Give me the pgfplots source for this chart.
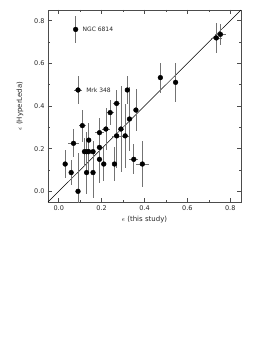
\documentclass[border=0pt]{standalone}
\usepackage{pgfplots}
\pgfplotsset{compat=1.18}
\usepackage{fontspec}
\setmainfont{DejaVu Sans}
\begin{document}
\begin{tikzpicture}
\useasboundingbox (-48pt,-151pt) rectangle (225pt,202pt);
\begin{axis}[
  at={(0,0)}, anchor=south west,
  width=193pt, height=192pt, scale only axis,
  xmin=-0.05, xmax=0.85, ymin=-0.05, ymax=0.85,
  xtick={0,0.2,...,0.8}, ytick={0,0.2,...,0.8},
  minor xtick={-0.0,0.1,...,0.8}, minor ytick={0,0.1,...,0.8},
  xticklabels={0.0,0.2,0.4,0.6,0.8}, yticklabels={0.0,0.2,0.4,0.6,0.8},
  tick align=inside, xtick pos=both, ytick pos=both,
  major tick length=4pt, minor tick length=2pt,
  tick style={black!70, line width=0.5pt},
  axis line style={black!70, line width=0.5pt},
  tick label style={font=\fontsize{6.5}{8}\selectfont, text=black!85},
  label style={font=\fontsize{7}{8}\selectfont, text=black!85},
  xlabel={$\epsilon$ (this study)}, ylabel={$\epsilon$ (HyperLeda)},
  xlabel style={yshift=1pt}, ylabel style={yshift=4pt},
  clip=true,
]
\addplot[black, line width=0.5pt] coordinates {(-0.05,-0.05) (0.85,0.85)};
\addplot[only marks, mark=*, mark size=2.4pt, black,
  error bars/.cd, x dir=both, x explicit, y dir=both, y explicit,
  error bar style={black!55, line width=0.7pt}, error mark=none]
  table[x=x, y=y, x error=ex, y error=ey] {
x y ex ey
0.030 0.128 0.005 0.065
0.058 0.088 0.010 0.060
0.069 0.225 0.027 0.065
0.090 0.000 0.005 0.180
0.110 0.308 0.015 0.075
0.120 0.186 0.010 0.065
0.130 0.186 0.010 0.090
0.140 0.186 0.010 0.090
0.160 0.186 0.010 0.050
0.140 0.240 0.010 0.080
0.130 0.088 0.010 0.100
0.160 0.088 0.010 0.120
0.190 0.275 0.020 0.070
0.190 0.206 0.005 0.110
0.190 0.150 0.005 0.110
0.210 0.128 0.010 0.080
0.220 0.292 0.020 0.100
0.240 0.369 0.020 0.060
0.260 0.128 0.005 0.080
0.270 0.412 0.015 0.065
0.270 0.260 0.020 0.150
0.290 0.292 0.015 0.200
0.310 0.260 0.020 0.150
0.320 0.475 0.010 0.065
0.330 0.339 0.010 0.150
0.360 0.381 0.010 0.100
0.350 0.150 0.020 0.070
0.390 0.128 0.030 0.110
0.474 0.533 0.005 0.070
0.545 0.511 0.005 0.090
0.735 0.719 0.025 0.070
0.754 0.736 0.025 0.050
0.079 0.759 0.005 0.065
0.090 0.475 0.020 0.065
};
\node[anchor=west, font=\fontsize{6}{7}\selectfont, text=black!85] at (axis cs:0.095,0.759) {NGC 6814};
\node[anchor=west, font=\fontsize{6}{7}\selectfont, text=black!85] at (axis cs:0.112,0.475) {Mrk 348};
\end{axis}
\end{tikzpicture}
\end{document}
